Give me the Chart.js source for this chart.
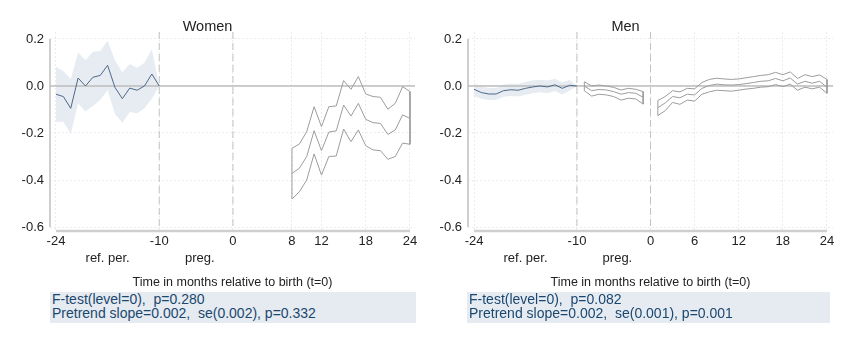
<!DOCTYPE html>
<html>
<head>
<meta charset="utf-8">
<script src="https://cdn.jsdelivr.net/npm/chart.js@4.4.1/dist/chart.umd.min.js"></script>
<style>
  body { margin: 0; background: #fff; width: 850px; height: 340px; position: relative; overflow: hidden; }
  canvas { position: absolute; top: 0; }
  #women { left: 0; }
  #men { left: 418px; }
  .stats {
    position: absolute; top: 292px; height: 31px;
    background: #e6ebf1; color: #1a476f;
    font-family: "Liberation Sans", Arial, sans-serif; font-size: 14px; line-height: 14px;
    padding-left: 2px; box-sizing: border-box; white-space: pre;
  }
</style>
</head>
<body>
<canvas id="women" width="425" height="290"></canvas>
<canvas id="men" width="425" height="290"></canvas>
<div class="stats" style="left:50px; width:366px;">F-test(level=0),  p=0.280
Pretrend slope=0.002,  se(0.002), p=0.332</div>
<div class="stats" style="left:467px; width:363px;">F-test(level=0),  p=0.082
Pretrend slope=0.002,  se(0.001), p=0.001</div>
<script>
// women: reference period (-24..-10) and after birth (8..24)
const wPreMonths = [-24, -23, -22, -21, -20, -19, -18, -17, -16, -15, -14, -13, -12, -11, -10];
const wPreEst = [-0.035, -0.045, -0.095, 0.034, 0.0, 0.037, 0.045, 0.088, -0.006, -0.054, -0.009, -0.018, 0.0, 0.051, 0.0];
const wPreHi = [0.082, 0.064, 0.030, 0.142, 0.110, 0.146, 0.149, 0.193, 0.109, 0.058, 0.094, 0.078, 0.099, 0.156, 0.0];
const wPreLo = [-0.152, -0.152, -0.204, -0.074, -0.109, -0.085, -0.060, -0.017, -0.119, -0.156, -0.111, -0.116, -0.095, -0.054, 0.0];

const wPostMonths = [8, 9, 10, 11, 12, 13, 14, 15, 16, 17, 18, 19, 20, 21, 22, 23, 24];
const wPostEst = [-0.372, -0.350, -0.300, -0.190, -0.275, -0.196, -0.191, -0.081, -0.128, -0.074, -0.142, -0.156, -0.159, -0.206, -0.187, -0.123, -0.138];
const wPostHi = [-0.265, -0.247, -0.194, -0.088, -0.173, -0.088, -0.085, 0.023, -0.014, 0.040, -0.034, -0.045, -0.048, -0.099, -0.074, -0.003, -0.024];
const wPostLo = [-0.481, -0.450, -0.400, -0.289, -0.379, -0.300, -0.298, -0.183, -0.237, -0.187, -0.254, -0.272, -0.275, -0.312, -0.300, -0.243, -0.248];

// men: reference period, pregnancy (-9..-1) and after birth (1..24)
const mPreMonths = [-24, -23, -22, -21, -20, -19, -18, -17, -16, -15, -14, -13, -12, -11, -10];
const mPreEst = [-0.014, -0.028, -0.034, -0.034, -0.020, -0.016, -0.018, -0.010, -0.004, 0.0, -0.004, 0.005, -0.010, 0.003, 0.0];
const mPreHi = [0.012, -0.002, -0.008, -0.008, 0.006, 0.011, 0.009, 0.017, 0.023, 0.027, 0.023, 0.031, 0.016, 0.026, 0.0];
const mPreLo = [-0.041, -0.054, -0.060, -0.060, -0.046, -0.043, -0.045, -0.037, -0.031, -0.027, -0.031, -0.021, -0.036, -0.020, 0.0];

const mPregMonths = [-9, -8, -7, -6, -5, -4, -3, -2, -1];
const mPregEst = [0.0, -0.020, -0.015, -0.017, -0.024, -0.035, -0.028, -0.031, -0.048];
const mPregHi = [0.018, 0.0, 0.004, 0.0, -0.006, -0.017, -0.010, -0.014, -0.024];
const mPregLo = [-0.020, -0.043, -0.035, -0.038, -0.045, -0.060, -0.052, -0.055, -0.077];

const mPostMonths = [1, 2, 3, 4, 5, 6, 7, 8, 9, 10, 11, 12, 13, 14, 15, 16, 17, 18, 19, 20, 21, 22, 23, 24];
const mPostHi = [-0.062, -0.045, -0.020, -0.025, -0.010, -0.012, 0.015, 0.028, 0.033, 0.030, 0.028, 0.030, 0.035, 0.040, 0.045, 0.048, 0.058, 0.048, 0.060, 0.032, 0.048, 0.040, 0.047, 0.028];
const mPostEst = [-0.092, -0.072, -0.045, -0.050, -0.035, -0.038, -0.010, 0.002, 0.008, 0.005, 0.004, 0.006, 0.010, 0.015, 0.020, 0.022, 0.032, 0.022, 0.034, 0.008, 0.020, 0.012, 0.020, -0.006];
const mPostLo = [-0.126, -0.105, -0.070, -0.078, -0.060, -0.064, -0.035, -0.025, -0.018, -0.020, -0.022, -0.018, -0.013, -0.010, -0.005, -0.003, 0.006, -0.003, 0.008, -0.018, -0.005, -0.012, -0.005, -0.031];

const womenTicks = [-24, -10, 0, 8, 12, 18, 24];
const menTicks = [-24, -10, 0, 6, 12, 18, 24];
const yTicks = [-0.6, -0.4, -0.2, 0, 0.2];
const refLines = [-10, 0];
const periodLabels = ['ref. per.', 'preg.'];
const periodCenters = [-17, -4.5];

const yMin = -0.617, yMax = 0.2298;
const font = '"Liberation Sans", Arial, sans-serif';
const ink = '#222';
const ciGray = '#9c9c9c';

const pts = (xs, ys) => xs.map((x, i) => ({ x: x, y: ys[i] }));

// shaded band + line for the reference period
const bandSets = (xs, est, hi, lo) => [
  { data: pts(xs, est), borderColor: '#4d6989', borderWidth: 1, order: 1 },
  { data: pts(xs, hi), borderWidth: 0, fill: '+1', backgroundColor: '#e6ecf2', order: 6 },
  { data: pts(xs, lo), borderWidth: 0, order: 6 }
];

// estimate plus outlined CI (upper out, lower back, closed)
const outlineSets = (xs, est, hi, lo) => {
  const ring = pts(xs, hi).concat(pts(xs, lo).reverse(), [{ x: xs[0], y: hi[0] }]);
  return [
    { data: pts(xs, est), borderColor: ciGray, borderWidth: 1, order: 2 },
    { data: ring, borderColor: ciGray, borderWidth: 1, order: 2 }
  ];
};

const axisLines = {
  id: 'axisLines',
  beforeDatasetsDraw(chart) {
    const { ctx, chartArea, scales } = chart;
    ctx.save();
    ctx.strokeStyle = '#cfcfcf';
    ctx.lineWidth = 2;
    ctx.beginPath();
    ctx.moveTo(chartArea.left, scales.y.getPixelForValue(0.2));
    ctx.lineTo(chartArea.left, scales.y.getPixelForValue(-0.6));
    ctx.stroke();
    ctx.lineWidth = 2.5;
    ctx.beginPath();
    ctx.moveTo(scales.x.getPixelForValue(-24), chartArea.bottom);
    ctx.lineTo(scales.x.getPixelForValue(24), chartArea.bottom);
    ctx.stroke();
    ctx.restore();
  }
};

function makePanel(id, title, ticks, xMin, xMax, sets) {
  const guides = refLines.map(v => ({
    data: [{ x: v, y: yMax }, { x: v, y: -0.6 }],
    borderColor: '#c2c2c2', borderWidth: 1, borderDash: [7, 4], order: 5
  }));
  const zero = { data: [{ x: xMin, y: 0 }, { x: xMax, y: 0 }], borderColor: '#bdbdbd', borderWidth: 1.5, order: 4 };

  return new Chart(document.getElementById(id), {
    type: 'line',
    data: { datasets: sets.concat(guides, [zero]) },
    plugins: [axisLines],
    options: {
      responsive: false,
      animation: false,
      devicePixelRatio: 1,
      layout: { padding: { left: 0, right: 10, top: 0, bottom: 0 } },
      elements: { point: { radius: 0 }, line: { tension: 0, fill: false } },
      plugins: {
        legend: { display: false },
        tooltip: { enabled: false },
        title: { display: true, text: title, color: ink,
          font: { family: font, size: 14.5, weight: 'normal', lineHeight: 0.62 }, padding: { top: 23, bottom: 0 } }
      },
      scales: {
        x: {
          type: 'linear', min: xMin, max: xMax, weight: 0,
          afterBuildTicks: axis => { axis.ticks = ticks.map(v => ({ value: v })); },
          afterFit: axis => { axis.height = 20; },
          ticks: { color: ink, font: { family: font, size: 13 }, padding: 3, maxRotation: 0, autoSkip: false },
          grid: { color: '#ebebeb', drawTicks: false },
          border: { display: false, dash: [2, 2] }
        },
        x2: {
          type: 'linear', position: 'bottom', min: xMin, max: xMax, weight: 1,
          afterBuildTicks: axis => { axis.ticks = periodCenters.map(v => ({ value: v })); },
          afterFit: axis => { axis.height = 39; },
          ticks: { color: ink, font: { family: font, size: 13 }, padding: 0, maxRotation: 0, autoSkip: false,
            callback: (v, i) => periodLabels[i] },
          grid: { display: false, drawTicks: false },
          border: { display: false },
          title: { display: true, text: 'Time in months relative to birth (t=0)', color: ink,
            font: { family: '"Liberation Sans Narrow", "Liberation Sans", Arial, sans-serif', size: 12.5 }, padding: 0 }
        },
        y: {
          min: yMin, max: yMax,
          afterBuildTicks: axis => { axis.ticks = yTicks.map(v => ({ value: v })); },
          afterFit: axis => { axis.width = 50; },
          ticks: { color: ink, font: { family: font, size: 13 }, padding: 6, callback: v => v.toFixed(1) },
          grid: { color: '#ebebeb', drawTicks: false },
          border: { display: false, dash: [2, 2] }
        }
      }
    }
  });
}

makePanel('women', 'Women', womenTicks, -24.81, 24.68,
  bandSets(wPreMonths, wPreEst, wPreHi, wPreLo)
    .concat(outlineSets(wPostMonths, wPostEst, wPostHi, wPostLo)));

makePanel('men', 'Men', menTicks, -24.82, 24.82,
  bandSets(mPreMonths, mPreEst, mPreHi, mPreLo)
    .concat(outlineSets(mPregMonths, mPregEst, mPregHi, mPregLo))
    .concat(outlineSets(mPostMonths, mPostEst, mPostHi, mPostLo)));
</script>
</body>
</html>
